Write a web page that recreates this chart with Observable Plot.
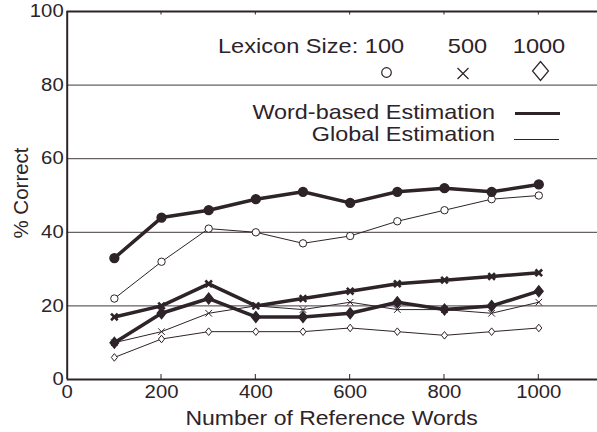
<!DOCTYPE html>
<html><head><meta charset="utf-8">
<script src="https://cdn.jsdelivr.net/npm/d3@7"></script>
<script src="https://cdn.jsdelivr.net/npm/@observablehq/plot@0.6"></script>
<style>
body{margin:0;background:#fff}
svg{font-family:"Liberation Sans",Arial,Helvetica,sans-serif}
</style>
</head><body><div id="chart"></div>
<script>
// ---- data ----
const refWords = [100, 200, 300, 400, 500, 600, 700, 800, 900, 1000];
const lexiconSizes = ["100", "500", "1000"];
const methods = ["Word-based Estimation", "Global Estimation"];
const wordBased100  = [33, 44, 46, 49, 51, 48, 51, 52, 51, 53];
const global100     = [22, 32, 41, 40, 37, 39, 43, 46, 49, 50];
const wordBased500  = [17, 20, 26, 20, 22, 24, 26, 27, 28, 29];
const global500     = [10, 13, 18, 20, 19, 21, 19, 19, 18, 21];
const wordBased1000 = [10, 18, 22, 17, 17, 18, 21, 19, 20, 24];
const global1000    = [ 6, 11, 13, 13, 13, 14, 13, 12, 13, 14];
const xTicks = [0, 200, 400, 600, 800, 1000];
const yTicks = [0, 20, 40, 60, 80, 100];
const gridValues = [20, 40, 60, 80];
const xLabel = "Number of Reference Words";
const yLabel = "% Correct";
const legendTitle = "Lexicon Size:";

// ---- styling ----
const ink = "#2d2329";
const W = 597, H = 432;
const mL = 66.7, mT = 11, mB = 53, mR = 0;
const xDomain = [0, (W - mL) / 0.4716];
const yDomain = [0, 100];
const tickStretch = 1.16;

const diamond = {
  draw(ctx, size) {
    const r = Math.sqrt(size / Math.PI);
    const h = r, w = r * 0.8;
    ctx.moveTo(0, -h); ctx.lineTo(w, 0); ctx.lineTo(0, h); ctx.lineTo(-w, 0); ctx.closePath();
  }
};
const symbols = {"100": "circle", "500": "times", "1000": diamond};

const seriesValues = {
  "Word-based Estimation": {"100": wordBased100, "500": wordBased500, "1000": wordBased1000},
  "Global Estimation": {"100": global100, "500": global500, "1000": global1000}
};
const rowsFor = (m, s) => refWords.map((x, i) => ({x, y: seriesValues[m][s][i], method: m, size: s}));

const thick = methods[0], thin = methods[1];
const dotStyle = {
  [thick]: {"100": {r: 4.4, fill: ink, strokeWidth: 1.5}, "500": {r: 3.1, fill: "none", strokeWidth: 2.6}, "1000": {r: 5.3, fill: ink, strokeWidth: 1.5}},
  [thin]: {"100": {r: 3.7, fill: "white", strokeWidth: 1}, "500": {r: 3.1, fill: "none", strokeWidth: 1}, "1000": {r: 3.8, fill: "white", strokeWidth: 1}}
};

const marks = [];
// grid + frame
marks.push(Plot.ruleY(gridValues, {y: d => d, stroke: ink, strokeWidth: 1, strokeOpacity: 0.9}));
marks.push(Plot.ruleY([yDomain[0], yDomain[1]], {y: d => d, stroke: ink, strokeWidth: 2}));
marks.push(Plot.ruleX([xDomain[0]], {x: d => d, y1: yDomain[0], y2: yDomain[1], stroke: ink, strokeWidth: 2}));
// lines
for (const m of [thin, thick]) for (const s of lexiconSizes) {
  marks.push(Plot.line(rowsFor(m, s), {x: "x", y: "y", stroke: ink, strokeWidth: m === thick ? 3.5 : 1, strokeLinejoin: "round"}));
}
for (const m of [thin, thick]) for (const s of lexiconSizes) {
  const st = dotStyle[m][s];
  marks.push(Plot.dot(rowsFor(m, s), {x: "x", y: "y", symbol: symbols[s], r: st.r, fill: st.fill, stroke: ink, strokeWidth: st.strokeWidth}));
}
// axes (labels only; tick marks drawn below)
marks.push(Plot.axisX(xTicks, {tickSize: 0, tickPadding: 6, fontSize: 17.5, fill: ink, label: null, tickFormat: d => String(d)}));
marks.push(Plot.axisY(yTicks, {tickSize: 0, tickPadding: 3.5, fontSize: 17.5, fill: ink, label: null, tickFormat: d => String(d)}));

const svgEl = Plot.plot({
  width: W, height: H,
  marginLeft: mL, marginTop: mT, marginBottom: mB, marginRight: mR,
  x: {domain: xDomain},
  y: {domain: yDomain},
  style: {background: "white", color: ink, overflow: "visible"},
  marks
});
document.getElementById("chart").appendChild(svgEl);

// stretch Plot's tick labels horizontally about their own anchor
svgEl.querySelectorAll("text").forEach(t => {
  const tr = t.getAttribute("transform");
  if (tr && tr.includes("translate") && !tr.includes("rotate")) {
    t.setAttribute("transform", tr + ` scale(${tickStretch},1)`);
  }
});

const xs = svgEl.scale("x"), ys = svgEl.scale("y");
const svg = d3.select(svgEl);
// inward tick marks on bottom and top frame
const tg = svg.append("g").attr("stroke", ink).attr("stroke-width", 1);
const yBot = ys.apply(yDomain[0]), yTop = ys.apply(yDomain[1]);
for (const v of xTicks.slice(1)) {
  const px = xs.apply(v);
  tg.append("line").attr("x1", px).attr("x2", px).attr("y1", yBot).attr("y2", yBot - 5);
  tg.append("line").attr("x1", px).attr("x2", px).attr("y1", yTop).attr("y2", yTop + 3.5);
}

const g = svg.append("g").attr("fill", ink);
const addText = (x, y, str, anchor, size, sx) =>
  g.append("text").attr("transform", `translate(${x},${y}) scale(${sx},1)`).attr("text-anchor", anchor).attr("font-size", size).text(str);
// axis titles
addText(331.6, 425, xLabel, "middle", 20, 1.15);
g.append("text").attr("transform", "translate(27.5,193) rotate(-90)").attr("text-anchor", "middle").attr("font-size", 20.5).text(yLabel);
// legend: lexicon sizes
addText(218, 53, `${legendTitle} ${lexiconSizes[0]}`, "start", 20, 1.18);
addText(467.5, 53, lexiconSizes[1], "middle", 20, 1.18);
addText(539, 53, lexiconSizes[2], "middle", 20, 1.18);
// symbols
const symG = svg.append("g").attr("fill", "none").attr("stroke", ink).attr("stroke-width", 1.2);
symG.append("circle").attr("cx", 386.5).attr("cy", 72.5).attr("r", 4.8);
symG.append("path").attr("transform", "translate(463,73.5)").attr("d", "M-5.5,-5.5L5.5,5.5M-5.5,5.5L5.5,-5.5");
symG.append("path").attr("transform", "translate(540.5,71)").attr("d", "M0,-9.5L8,0L0,9.5L-8,0Z");
// method legend
addText(495, 119, methods[0], "end", 20, 1.17);
addText(495, 141, methods[1], "end", 20, 1.17);
svg.append("line").attr("x1", 515).attr("x2", 560).attr("y1", 113.5).attr("y2", 113.5).attr("stroke", ink).attr("stroke-width", 3.2);
svg.append("line").attr("x1", 514).attr("x2", 559).attr("y1", 139.5).attr("y2", 139.5).attr("stroke", ink).attr("stroke-width", 1);
</script>
</body></html>
